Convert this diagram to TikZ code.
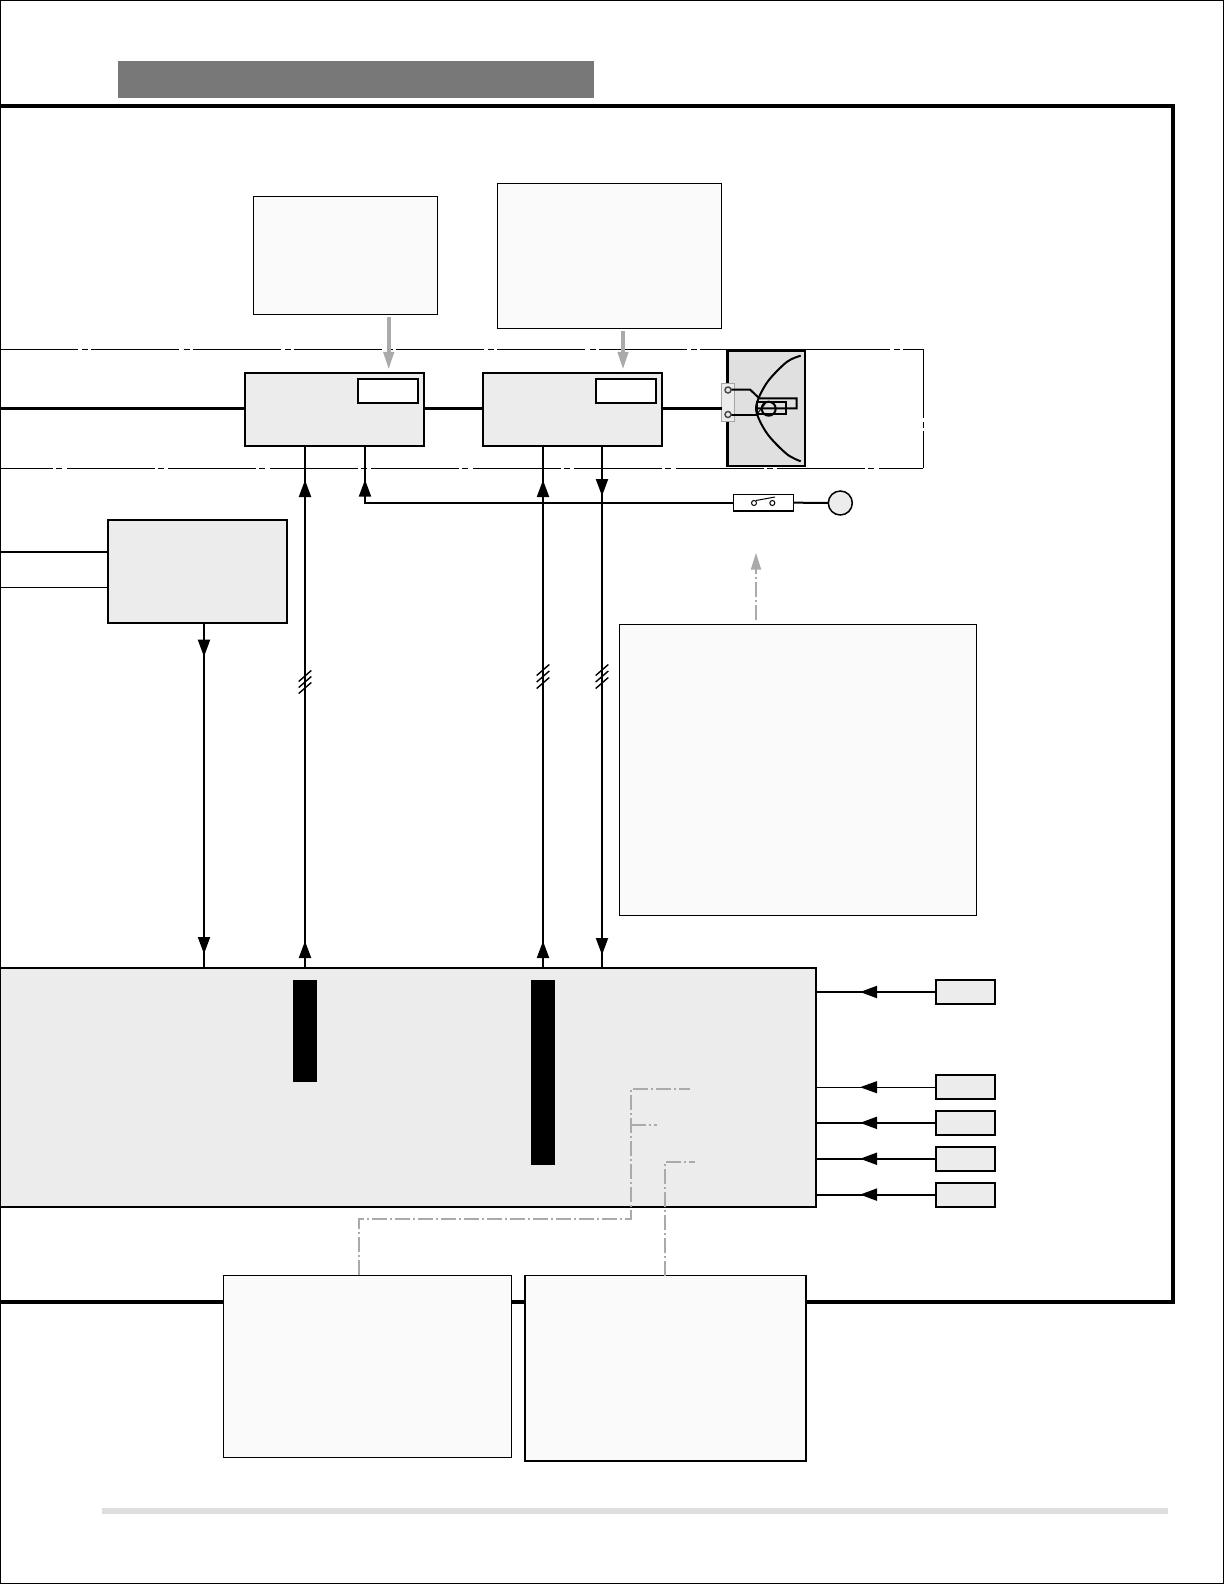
\documentclass[tikz,border=0pt]{standalone}
\usepackage{tikz}
\usetikzlibrary{arrows.meta,decorations.markings}
\definecolor{blockgray}{HTML}{ECECEC}
\definecolor{notegray}{HTML}{FAFAFA}
\definecolor{lampgray}{HTML}{E0E0E0}
\definecolor{titlegray}{HTML}{787878}
\definecolor{leadgray}{HTML}{AAAAAA}
\tikzset{
    block/.style={draw=black, fill=blockgray, line width=1pt, inner sep=0pt, outer sep=0pt},
    note/.style={draw=black, fill=notegray, line width=.5pt, inner sep=0pt, outer sep=0pt},
    tag/.style={draw=black, fill=white, line width=1pt, inner sep=0pt, outer sep=0pt},
    solidbar/.style={fill=black, inner sep=0pt, outer sep=0pt},
    wire/.style={line width=1pt},
    thinwire/.style={line width=.5pt},
    feed/.style={line width=1.5pt},
    hatch/.style={line width=.7pt},
    leadline/.style={draw=leadgray, line width=1pt, dash pattern=on 7.5pt off 1.5pt on 1pt off 1.5pt},
    headat/.style={postaction={decorate, decoration={markings,
        mark=at position #1 with {\arrow{Triangle[length=8.5pt,width=6pt]}}}}},
}

\begin{document}
\begin{tikzpicture}[x=.5pt, y=-.5pt]
        \useasboundingbox (0,0) rectangle (1224,1584);
        % frames
            \draw[line width=.75pt] (.7,.7) rectangle (1223.3,1583.3);
            \draw[line width=2pt] (0,106) -- (1173,106) -- (1173,1302) -- (0,1302);
            \draw[line width=.5pt, dash pattern=on 44pt off 2.25pt on 3pt off 1.5pt, dash phase=5.25pt]
                (0,349.5) -- (923,349.5) -- (923,468);
            \draw[line width=.5pt, dash pattern=on 44pt off 1.5pt on 3pt off 2.25pt, dash phase=17.35pt]
                (0,468) -- (923,468);
            \fill[color=black!13] (102,1508) rectangle (1168,1514);
        %nodes
            \node[fill=titlegray, inner sep=0pt, minimum width=238pt, minimum height=18.5pt] (title) at (356,79.5) {};
            \node[note, minimum width=91.75pt, minimum height=59pt] (noteA) at (345.25,255) {};
            \node[note, minimum width=112pt, minimum height=72.5pt] (noteB) at (609,255.5) {};
            \node[note, minimum width=178.75pt, minimum height=145.5pt] (noteE) at (797.75,769.5) {};
            \node[note, minimum width=144pt, minimum height=91pt] (noteD) at (367,1366) {};
            \node[note, line width=.6pt, minimum width=140.5pt, minimum height=92.75pt] (noteF) at (665.5,1368.25) {};
            \node[block, minimum width=89.65pt, minimum height=36.5pt] (modA) at (334.65,409) {};
                \node[tag, minimum width=30.15pt, minimum height=12.3pt] (tagA) at (387.85,391) {};
            \node[block, minimum width=89.8pt, minimum height=36.5pt] (modB) at (572.5,409) {};
                \node[tag, minimum width=30pt, minimum height=12.3pt] (tagB) at (626.3,391) {};
            \node[block, minimum width=89.5pt, minimum height=51.35pt] (relay) at (197.5,571.35) {};
            \node[block, minimum width=408pt, minimum height=119.35pt] (ecu) at (408,1087.35) {};
                \node[solidbar, minimum width=11.85pt, minimum height=51pt] (barA) at (305.15,1031) {};
                \node[solidbar, minimum width=12pt, minimum height=92.25pt] (barB) at (543,1072.25) {};
            \node[block, minimum width=29.8pt, minimum height=12pt] (sensA) at (965.5,992) {};
            \node[block, minimum width=29.8pt, minimum height=12pt] (sensB) at (965.5,1087.2) {};
            \node[block, minimum width=29.8pt, minimum height=12pt] (sensC) at (965.5,1122.85) {};
            \node[block, minimum width=29.8pt, minimum height=12pt] (sensD) at (965.5,1158.75) {};
            \node[block, minimum width=29.8pt, minimum height=12pt] (sensE) at (965.5,1194.6) {};
            \node[tag, line width=.75pt, minimum width=30.2pt, minimum height=8.35pt] (switch) at (763.5,502.65) {};
            \node[block, circle, line width=.75pt, minimum size=12pt] (bulb) at (840.3,503) {};
        %lamp
            \node[block, fill=lampgray, line width=1.25pt, minimum width=38.85pt, minimum height=57.65pt] (lamp) at (766.15,408.35) {};
            \node[draw=black!35, fill=blockgray, line width=.5pt, inner sep=0pt, outer sep=0pt, minimum width=6.15pt, minimum height=19pt] (flange) at (727.85,402.3) {};
            \draw[wire] (731,389.5) -- (750,389.5) -- (759.3,398.3) -- (796.7,398.3) -- (796.7,408.3) -- (758,408.3);
            \draw[wire] (731,414.7) -- (756.7,414.7);
            \draw[wire] (756.7,402.3) rectangle (785.7,414.3);
            \draw[line width=.5pt] (757,414) -- (765,404);
            \draw[wire] (768.7,408.7) circle (7);
            \draw[line width=.75pt, draw=black!70, fill=blockgray] (728,390) circle (3);
            \draw[line width=.75pt, draw=black!70, fill=blockgray] (728,414.5) circle (3);
            \draw[wire] plot[smooth] coordinates {(800.7,355.7) (786.7,362) (766.7,383) (756,408.3) (766.7,433) (786.7,454) (800.7,461.3)};
        %switch contacts
            \draw[line width=.5pt] (754,503) circle (2.5);
            \draw[line width=.5pt] (772.3,503) circle (2.5);
            \draw[line width=.5pt] (756,500.5) -- (775,497);
        %points on the wires
            \coordinate (feedin) at (0,408.2);
            \coordinate (lineA) at (0,552);
            \coordinate (lineB) at (0,587.3);
            \coordinate (w0) at (204,0);
            \coordinate (w1) at (305,0);
            \coordinate (w2) at (365,0);
            \coordinate (w3) at (543,0);
            \coordinate (w4) at (602,0);
            \coordinate (arrA) at (388.7,0);
            \coordinate (arrB) at (623,0);
            \coordinate (leadtip) at (756,552.7);
            \coordinate (cornerA) at (359,1219);
            \coordinate (cornerB) at (631,1219);
            \coordinate (cornerC) at (631,1089);
            \coordinate (endC) at (690,1089);
            \coordinate (forkC) at (631,1125);
            \coordinate (endD) at (656.7,1125);
            \coordinate (cornerE) at (665,1161.7);
            \coordinate (endE) at (695,1161.7);
        % lines
            \draw[feed] (feedin) -- (modA.west |- feedin);
            \draw[feed] (modA.east |- feedin) -- (modB.west |- feedin);
            \draw[feed] (modB.east |- feedin) -- (flange.west |- feedin);
            \draw[wire] (lineA) -- (relay.west |- lineA);
            \draw[thinwire] (lineB) -- (relay.west |- lineB);
            \draw[wire, headat=17pt, headat=165.65pt] (relay.south -| w0) -- (ecu.north -| w0);
            \draw[wire, headat=13.5pt, headat=244pt] (ecu.north -| w1) -- (modA.south -| w1);
            \draw[wire, headat=195.65pt] (switch.west) -| (modA.south -| w2);
            \draw[wire, headat=13.5pt, headat=244pt] (ecu.north -| w3) -- (modB.south -| w3);
            \draw[wire, headat=25.25pt, headat=254.75pt] (modB.south -| w4) -- (ecu.north -| w4);
            \draw[wire] (switch.east) -- (bulb.west);
            \draw[wire, headat=37.85pt] (sensA.west) -- (sensA.west -| ecu.east);
            \draw[thinwire, headat=37.85pt] (sensB.west) -- (sensB.west -| ecu.east);
            \draw[wire, headat=37.85pt] (sensC.west) -- (sensC.west -| ecu.east);
            \draw[wire, headat=37.85pt] (sensD.west) -- (sensD.west -| ecu.east);
            \draw[wire, headat=37.85pt] (sensE.west) -- (sensE.west -| ecu.east);
        %bus marks
            \foreach \y in {676,682,688} \draw[hatch] (298.7,\y+5.5) -- (311.3,\y-5.5);
            \foreach \y in {670,676.5,683} \draw[hatch] (536.7,\y+5.5) -- (549.3,\y-5.5);
            \foreach \y in {670,676.5,683} \draw[hatch] (595.7,\y+5.5) -- (608.3,\y-5.5);
        %gray leaders
            \draw[draw=leadgray, line width=2pt, shorten <=1.5pt, shorten >=1.3pt, -{Triangle[length=9pt,width=5pt]}] (noteA.south -| arrA) -- (modA.north -| arrA);
            \draw[draw=leadgray, line width=2pt, shorten <=1.5pt, shorten >=1.3pt, -{Triangle[length=9pt,width=5pt]}] (noteB.south -| arrB) -- (modB.north -| arrB);
            \draw[leadline, shorten <=2pt, -{Triangle[length=8.5pt,width=5pt,fill=leadgray]}] (noteE.north -| leadtip) -- (leadtip);
            \draw[leadline] (noteD.north -| cornerA) -- (cornerA) -- (cornerB) -- (cornerC) -- (endC);
            \draw[leadline] (forkC) -- (endD);
            \draw[leadline] (noteF.north -| cornerE) -- (cornerE) -- (endE);
    \end{tikzpicture}
\end{document}
